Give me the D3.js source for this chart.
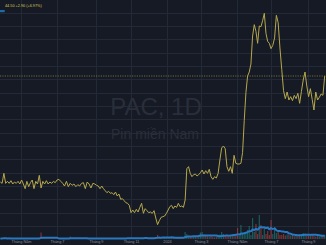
<!DOCTYPE html>
<html><head><meta charset="utf-8">
<script src="https://cdn.jsdelivr.net/npm/d3@7"></script>
<style>html,body{margin:0;padding:0;background:#161a25;overflow:hidden}svg{display:block}</style>
</head><body><svg id="c" width="326" height="245"></svg>
<script>
// ---------- data ----------
const symbol = "PAC, 1D";
const company = "Pin miền Nam";
const lastClose = 44.50, change = 2.90, changePct = 6.97;
const startDate = "2023-03-27";
const stepDays = 3; // one sample every 3 calendar days
const closes = [
28.6,28.4,29.9,28.4,28.7,28.4,28.8,28.3,28.6,28.4,
28.7,28.3,28.9,28.3,27.6,28.7,27.9,28.5,28.9,27.6,
28.7,28.3,29.6,27.7,28.7,28.3,28.8,28.3,28.6,28.4,
28.7,28.5,28.9,29.0,28.7,28.4,28.0,28.7,27.9,28.4,
28.1,28.3,27.9,28.2,28.0,28.4,28.5,27.6,28.6,28.3,
27.7,28.4,28.3,28.1,28.0,27.6,28.0,27.6,27.3,27.0,
27.2,26.9,27.0,26.7,27.1,26.5,26.8,26.0,26.1,25.8,
25.5,25.4,25.1,24.0,24.4,24.0,24.5,24.1,24.8,25.4,
23.9,24.6,24.3,24.0,24.1,23.9,24.3,23.2,22.2,22.8,
23.3,23.4,23.5,23.9,24.4,24.9,25.1,24.6,25.0,24.8,
25.4,24.9,25.0,24.8,25.9,30.6,30.9,29.9,29.4,29.7,
29.8,29.5,29.7,30.0,30.4,29.8,30.3,29.9,30.5,29.4,
29.0,29.4,29.2,29.9,31.9,33.7,34.0,33.6,30.9,30.2,
30.9,29.9,32.6,31.4,31.3,31.3,31.4,33.0,37.8,42.0,
44.5,45.1,46.3,50.5,52.2,51.2,49.4,52.0,51.9,52.8,
53.9,50.9,49.7,49.4,48.6,49.1,50.2,53.6,52.5,48.7,
45.5,42.3,41.1,42.1,40.9,41.4,40.8,41.6,41.1,41.9,
40.4,42.2,43.9,45.1,43.0,41.4,42.6,41.0,39.4,42.1,
40.9,41.3,41.8,41.6,44.5
];
const volumes = [
60,40,120,50,30,80,40,60,30,50,
40,70,30,50,90,40,60,30,50,80,
40,60,90,650,120,60,40,70,30,50,
60,40,50,80,40,60,30,50,40,250,
60,40,50,30,70,40,60,30,80,40,
50,30,60,40,70,50,40,60,30,80,
50,40,60,90,40,70,50,60,80,40,
90,60,70,150,80,60,120,70,90,60,
110,70,80,60,90,120,80,200,420,150,
100,80,120,90,150,120,200,110,160,90,
140,100,120,180,700,500,350,250,180,220,
200,160,300,650,700,450,300,250,200,350,
200,150,250,200,450,700,500,350,300,250,
300,450,500,350,1100,300,1400,600,600,700,
900,1300,400,2100,700,1500,500,2400,1400,400,
1100,500,800,400,1900,500,1200,600,700,400,
400,500,350,450,400,350,400,300,350,300,
450,500,600,550,400,350,300,450,300,250,
300,250,300,280,400
];
const tickDates = ["2023-05-01","2023-07-01","2023-09-01","2023-11-01","2024-01-01","2024-03-01","2024-05-01","2024-07-01","2024-09-01"];
const tickLabels = ["Tháng Năm","Tháng 7","Tháng 9","Tháng 11","2024","Tháng 3","Tháng Năm","Tháng 7","Tháng 9"];
const priceTicks = [22,24,26,28,30,32,34,36,38,40,42,44,46,48,50,52,54];
const maWindow = 10;

// ---------- layout ----------
const W = 326, H = 245;
const axisStops = [21,57,96,131,167,201,237,271,308]; // pixel stops of month ticks (bar-index compression)
const parse = d3.timeParse("%Y-%m-%d");
const t0 = parse(startDate);
const data = closes.map((c,i)=>({date:d3.timeDay.offset(t0,i*stepDays), close:c, vol:volumes[i], prev: i? closes[i-1] : c}));
data.forEach((d,i)=>{ const s = data.slice(Math.max(0,i-maWindow+1), i+1); d.ma = d3.mean(s, e=>e.vol); });

const x = d3.scaleTime().domain(tickDates.map(parse)).range(axisStops);
const y = d3.scaleLinear().domain([19.15, 55.9]).range([H, 0]);
const yv = d3.scaleLinear().domain([0, 2500]).range([239, 214]);

const svg = d3.select("#c");
svg.append("rect").attr("width",W).attr("height",H).attr("fill","#161a25");

const grid = svg.append("g").attr("stroke","#242937").attr("stroke-width",1);
grid.selectAll("line.h").data(priceTicks).join("line")
  .attr("x1",0).attr("x2",W)
  .attr("y1",d=>Math.round(y(d))+0.5).attr("y2",d=>Math.round(y(d))+0.5);
grid.selectAll("line.v").data(tickDates.map(parse)).join("line")
  .attr("y1",0).attr("y2",238)
  .attr("x1",d=>Math.round(x(d))+0.5).attr("x2",d=>Math.round(x(d))+0.5);

// watermark
svg.append("text").attr("x",156).attr("y",115).attr("text-anchor","middle")
  .attr("font-family","Liberation Sans, Arial, sans-serif").attr("font-size",24)
  .attr("fill","#2a2e3a").text(symbol);
svg.append("text").attr("x",155).attr("y",139).attr("text-anchor","middle")
  .attr("font-family","Liberation Sans, Arial, sans-serif").attr("font-size",14)
  .attr("fill","#2a2e3a").text(company);

// volume bars
svg.append("g").selectAll("rect").data(data).join("rect")
  .attr("x",d=>x(d.date)-0.6).attr("width",1.2)
  .attr("y",d=>yv(d.vol)).attr("height",d=>yv(0)-yv(d.vol))
  .attr("fill",d=>d.close>=d.prev?"rgba(38,166,154,0.45)":"rgba(239,83,80,0.45)");

// volume MA
svg.append("path").datum(data)
  .attr("d",d3.line().x(d=>x(d.date)).y(d=>yv(d.ma)).curve(d3.curveMonotoneX))
  .attr("fill","none").attr("stroke","#2878c2").attr("stroke-width",2);

// last price dashed line
svg.append("line").attr("x1",0).attr("x2",W)
  .attr("y1",y(lastClose)).attr("y2",y(lastClose))
  .attr("stroke","#9a8e45").attr("stroke-width",0.7).attr("stroke-dasharray","1.2,1.2");

// price line
svg.append("path").datum(data)
  .attr("d",d3.line().x(d=>x(d.date)).y(d=>y(d.close)))
  .attr("fill","none").attr("stroke","#b5a84c").attr("stroke-width",1)
  .attr("stroke-linejoin","round");

// x axis
const ax = svg.append("g").attr("transform","translate(0,240)")
  .call(d3.axisBottom(x).tickValues(tickDates.map(parse)).tickFormat((d,i)=>tickLabels[i]).tickSize(0).tickPadding(0));
ax.select(".domain").remove();
ax.selectAll("text").attr("font-size",3.8).attr("fill","#8a8e9b")
  .attr("font-family","Liberation Sans, Arial, sans-serif");

// header legend
const f2 = d3.format(".2f");
svg.append("text").attr("x",5).attr("y",6.5)
  .attr("font-family","Liberation Sans, Arial, sans-serif").attr("font-size",3.8)
  .attr("fill","#d8c956")
  .text(`${f2(lastClose)} +${f2(change)} (+${f2(changePct)}%)`);
svg.append("rect").attr("x",0).attr("y",10).attr("width",4.7).attr("height",2.2).attr("fill","#1f6aa8");
</script>
</body></html>
